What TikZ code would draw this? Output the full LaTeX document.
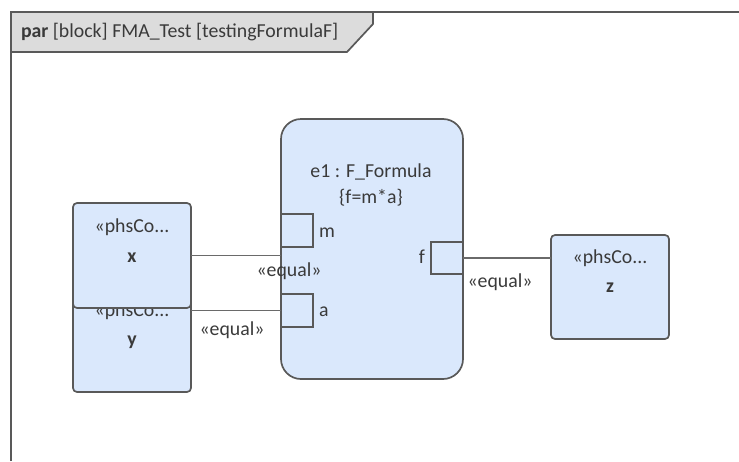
\documentclass[tikz,border=0pt]{standalone}
\usepackage{fontspec}
\setmainfont{Carlito}
\definecolor{blk}{HTML}{DAE8FC}
\definecolor{edge}{HTML}{595959}
\definecolor{hdr}{HTML}{DCDCDC}
\definecolor{txt}{HTML}{3A3A3A}
\begin{document}
\begin{tikzpicture}[x=1pt,y=-1pt,
  every node/.style={inner sep=0pt,outer sep=0pt,text=txt,font=\fontsize{19.8}{23}\selectfont},
  box/.style={draw=edge,fill=blk,line width=1.7pt,rounded corners=4pt},
  port/.style={draw=edge,fill=blk,line width=1.7pt},
  conn/.style={draw=edge!90,line width=1.6pt},
  lbl/.style={anchor=center}]
\useasboundingbox (0,0) rectangle (739,461);
% frame
\fill[hdr] (11,12) -- (373,12) -- (373,24) -- (347,52) -- (11,52) -- cycle;
\draw[edge,line width=1.7pt] (373,12) -- (373,24) -- (347,52) -- (11,52);
\draw[edge,line width=1.8pt] (11,461) -- (11,12) -- (739,12);
\node[anchor=west] (title) at (21,32) {\textbf{par} [block] FMA\_Test [testingFormulaF]};
% y block (behind x)
\path[box] (73,287) rectangle (191,392);
\node[draw=none,minimum width=118pt,minimum height=105pt] (yb) at (132,339.5) {};
\node (ys) at (132,311) {«phsCo...};
\node (yn) at (132,342) {\textbf{y}};
% x block
\path[box] (73,203) rectangle (191,308);
\node[draw=none,minimum width=118pt,minimum height=105pt] (xb) at (132,255.5) {};
\node (xs) at (132,227) {«phsCo...};
\node (xn) at (132,258) {\textbf{x}};
% z block
\path[box] (551,235) rectangle (669,339);
\node[draw=none,minimum width=118pt,minimum height=104pt] (zb) at (610,287) {};
\node (zs) at (610,258) {«phsCo...};
\node (zn) at (610,288) {\textbf{z}};
% e1 block
\path[box,rounded corners=20pt] (281,119) rectangle (463,379);
\node[draw=none,minimum width=182pt,minimum height=260pt] (e1) at (372,249) {};
\node (e1n) at (371,172) {e1 : F\_Formula};
\node (e1c) at (371,198) {\{f=m*a\}};
% ports
\node[port,minimum width=32pt,minimum height=33pt] (pm) at (297,230.5) {};
\node[anchor=west] (pml) at (319,233) {m};
\node[port,minimum width=32pt,minimum height=33pt] (pa) at (297,310.5) {};
\node[anchor=west] (pal) at (319,312) {a};
\node[port,minimum width=32pt,minimum height=32pt] (pf) at (447,258) {};
\node[anchor=east] (pfl) at (425,257) {f};
% connectors
\draw[conn] (xb.east) -- (xb.east -| e1.west);
\draw[conn] (pa.west -| yb.east) -- (pa.west);
\draw[conn] (pf.east) -- (pf.east -| zb.west);
\node (l1) at (289,271) {«equal»};
\node (l2) at (232,330) {«equal»};
\node (l3) at (500,282) {«equal»};
\end{tikzpicture}
\end{document}
